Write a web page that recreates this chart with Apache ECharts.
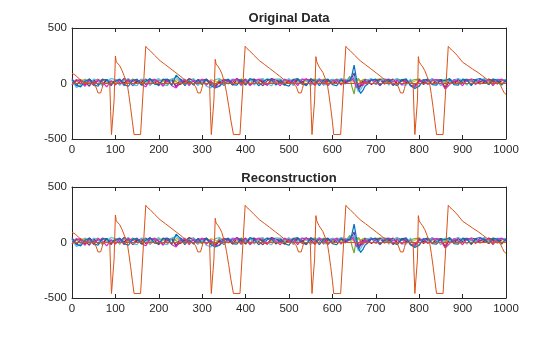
<!DOCTYPE html>
<html>
<head>
<meta charset="utf-8">
<script src="https://cdn.jsdelivr.net/npm/echarts@6/dist/echarts.min.js"></script>
<style>
html,body{margin:0;padding:0;background:#fff;}
#c{width:560px;height:337px;}
</style>
</head>
<body>
<div id="c"></div>
<script>
// Titles and tick values
const titles = ['Original Data', 'Reconstruction'];
const xTicks = [0, 100, 200, 300, 400, 500, 600, 700, 800, 900, 1000];
const yTicks = [-500, 0, 500];

// Sample positions for the small-amplitude channels
const xs = [
  0,10,20,30,40,50,60,70,80,90,
  100,110,120,130,140,150,160,170,180,190,
  200,210,220,230,240,250,260,270,280,290,
  300,310,320,330,340,350,360,370,380,390,
  400,410,420,430,440,450,460,470,480,490,
  500,510,520,530,540,550,560,570,580,590,
  600,610,620,630,635,640,645,650,655,660,
  665,670,675,680,690,700,710,720,730,740,
  750,760,770,780,790,800,810,820,830,840,
  850,860,870,880,890,900,910,920,930,940,
  950,960,970,980,990,1000
];

const chBlue = [
  35,-15,-30,20,40,-10,-25,30,35,-5,
  20,40,-10,-25,30,35,-15,20,45,-5,
  -10,35,40,-15,75,35,-20,25,-15,35,
  -5,40,-20,-40,-25,20,40,-10,-15,35,
  -10,45,25,-20,15,40,30,-15,25,-10,
  -25,35,45,-5,-15,35,25,-20,30,40,
  -10,-20,30,-5,30,25,75,165,50,-45,
  -90,-65,-25,-10,30,40,-15,20,35,-5,
  -20,35,40,-20,-45,-25,30,40,-10,-15,
  35,25,45,-10,-15,40,30,-20,35,45,
  25,-10,40,30,-15,30
];
const chCyan = [
  30,-35,-15,35,-10,40,25,-20,15,45,
  35,-15,25,45,-10,-20,40,30,-15,25,
  45,-10,-20,40,55,20,40,-10,45,-15,
  25,-25,-40,35,45,-15,15,40,30,-20,
  25,40,-15,35,45,-5,-20,35,40,20,
  45,-15,15,40,30,-20,25,45,-5,-15,
  40,20,45,30,35,45,35,65,-25,-75,
  -55,-20,15,30,45,-10,25,40,-15,30,
  45,-10,-15,40,-35,-20,35,10,45,20,
  -20,40,15,30,45,20,-15,40,10,30,
  45,20,-15,40,30,35
];
const chMagenta = [
  -10,35,15,-25,30,-20,35,15,-30,25,
  -15,30,-20,35,15,40,-10,-30,30,35,
  15,-25,30,-20,-40,15,35,-20,30,10,
  40,-15,25,-30,-20,35,15,30,40,-15,
  35,-20,15,40,25,-15,35,10,-20,40,
  15,30,-20,35,40,10,-15,35,25,-20,
  25,35,-15,30,10,25,45,20,-35,-15,
  15,-20,25,-10,35,15,-20,30,40,15,
  25,-15,35,-20,-30,15,35,-10,30,35,
  15,-50,-10,35,15,-20,30,35,-10,40,
  15,35,-20,30,40,10
];
const chPurple = [
  45,-20,25,15,-25,35,-10,40,25,-20,
  35,10,45,25,-20,15,35,-10,40,20,
  -20,40,15,35,-30,40,10,45,20,-15,
  35,25,10,-35,25,-20,35,10,45,20,
  -15,35,40,10,-20,25,45,30,10,-15,
  35,10,40,20,-20,45,10,35,-15,25,
  35,10,40,20,15,25,55,95,-15,-55,
  -25,-5,35,10,40,-10,35,15,25,-20,
  35,20,40,-15,-30,35,-10,25,40,10,
  25,-35,35,10,40,20,35,-10,25,15,
  35,-10,25,15,35,20
];
const chGreen = [
  15,30,-10,35,10,25,40,-10,35,15,
  25,-15,35,10,40,20,-10,35,10,40,
  25,35,-10,40,15,-10,25,35,40,10,
  -10,35,15,-15,40,20,-5,35,25,40,
  10,25,35,10,40,-10,25,40,35,10,
  25,35,10,40,20,35,40,10,35,20,
  10,40,30,20,35,65,-30,-95,30,45,
  20,30,40,25,30,35,40,40,35,30,
  40,30,15,25,35,40,10,30,20,35,
  30,10,40,20,10,30,40,15,30,10,
  30,15,40,10,30,20
];
const chYellow = [
  30,-5,25,40,10,-10,25,35,0,25,
  10,35,-5,25,35,5,25,-5,35,10,
  35,20,5,-5,35,20,5,40,30,15,
  10,-5,35,20,5,40,20,-5,10,35,
  20,5,-5,35,20,40,5,25,-5,35,
  5,40,20,-5,35,10,35,20,40,5,
  20,35,5,40,20,40,25,10,20,30,
  10,35,20,5,35,20,40,5,20,35,
  5,20,35,5,20,40,5,20,35,5,
  20,35,5,20,40,5,35,20,5,35,
  20,5,35,20,5,30
];
const chDarkRed = [
  -15,25,35,-10,40,10,25,-15,35,-5,
  25,35,5,40,-10,25,10,40,-15,35,
  10,-10,35,25,-25,-5,25,10,-5,35,
  25,40,-10,-25,10,35,25,-15,35,10,
  40,-10,25,35,10,-15,40,25,35,-10,
  25,-15,35,10,40,25,-15,40,10,35,
  -5,25,35,10,20,30,35,45,0,-30,
  -15,20,-5,35,-10,25,35,-5,15,40,
  -5,35,10,25,-20,25,10,35,-5,25,
  35,-45,25,-5,35,10,25,40,30,-5,
  10,40,25,-5,25,35
];

// Flat channel
const zeroX = [0, 1000];
const zeroY = [0, 0];

// Large-amplitude channel, [x, y]
const bigSignal = [
 [0,92],[7,77],[18,38],[26,16],[35,3],[45,0],
 [49,0],[55,-30],[60,-85],[63,-95],[66,-85],[69,-45],[72,0],
 [87,0],[89,-250],[91,-460],[95,-460],[97,-150],[100,248],[102,195],[106,180],[110,160],[115,120],[120,70],[127,0],[131,-100],[135,-215],[139,-340],[143,-460],[158,-460],
 [170,335],[174,315],[180,296],[190,255],[203,205],[215,170],[226,137],[240,95],[249,68],[260,32],[270,8],[279,0],
 [285,-30],[290,-85],[293,-95],[296,-85],[299,-45],[302,0],
 [317,0],[319,-250],[321,-460],[325,-460],[327,-150],[330,218],[332,175],[337,151],[341,125],[345,92],[352,0],[356,-80],[361,-200],[366,-330],[372,-460],[387,-460],
 [399,335],[403,315],[409,296],[419,255],[432,205],[444,170],[455,137],[469,95],[478,68],[489,32],[499,8],[510,0],
 [517,-30],[522,-85],[525,-95],[528,-85],[531,-45],[534,0],
 [549,0],[551,-250],[553,-460],[557,-460],[559,-150],[562,242],[564,195],[569,152],[573,135],[578,100],[583,50],[588,0],[592,-100],[596,-215],[600,-340],[603,-460],[619,-460],
 [631,335],[635,315],[641,296],[651,255],[664,205],[676,170],[687,137],[701,95],[710,68],[721,32],[731,8],[740,0],
 [747,-5],[752,-30],[757,-85],[760,-95],[763,-85],[766,-45],[769,0],
 [786,0],[788,-250],[790,-460],[794,-460],[796,-150],[798,242],[800,195],[804,170],[808,150],[813,115],[818,65],[824,0],[828,-100],[832,-215],[836,-340],[840,-460],[855,-460],
 [867,335],[871,315],[877,296],[887,255],[900,192],[912,160],[923,130],[937,95],[946,68],[957,35],[967,15],[975,3],[984,0],[988,-20],[992,-55],[996,-85],[1000,-97]
];

const noise = [
  {d: chYellow, c: '#EDB120'},
  {d: chGreen, c: '#77AC30'},
  {d: chDarkRed, c: '#A2142F'},
  {d: chPurple, c: '#7E2F8E'},
  {d: chCyan, c: '#4DBEEE'},
  {d: chMagenta, c: '#D62ACB'},
  {d: chBlue, c: '#0072BD'}
];

const FONT = '"Liberation Sans", Arial, Helvetica, sans-serif';
const TXT = '#262626';
const grids = [
  {left: 72, right: 54, top: 28, height: 111},
  {left: 72, right: 54, top: 187, height: 111}
];

const xAxes = [], yAxes = [], series = [], titleArr = [];
grids.forEach((g, gi) => {
  const common = {
    gridIndex: gi, type: 'value', splitLine: {show: false},
    axisLine: {show: true, onZero: false, lineStyle: {color: TXT, width: 1}},
    axisTick: {show: true, inside: true, length: 4, lineStyle: {color: TXT}}
  };
  const lbl = {show: true, color: TXT, fontSize: 11.5, fontFamily: FONT, margin: 5,
               formatter: v => String(v)};
  xAxes.push(Object.assign({}, common, {
    position: 'bottom', min: xTicks[0], max: xTicks[xTicks.length - 1], interval: 100,
    axisLabel: lbl
  }));
  xAxes.push(Object.assign({}, common, {
    position: 'top', min: xTicks[0], max: xTicks[xTicks.length - 1], interval: 100,
    axisLabel: {show: false}
  }));
  yAxes.push(Object.assign({}, common, {
    position: 'left', min: yTicks[0], max: yTicks[yTicks.length - 1], interval: 500,
    axisLabel: lbl
  }));
  yAxes.push(Object.assign({}, common, {
    position: 'right', min: yTicks[0], max: yTicks[yTicks.length - 1], interval: 500,
    axisLabel: {show: false}
  }));
  titleArr.push({
    text: titles[gi], left: 289, top: gi === 0 ? 12 : 172, textAlign: 'center', padding: 0,
    textStyle: {fontSize: 13, fontWeight: 'bold', color: TXT, fontFamily: FONT}
  });
  const xi = gi * 2, yi = gi * 2;
  noise.forEach(n => {
    series.push({
      type: 'line', xAxisIndex: xi, yAxisIndex: yi, symbol: 'none', silent: true,
      lineStyle: {width: 1.2, color: n.c}, itemStyle: {color: n.c},
      data: xs.map((x, i) => [x, n.d[i]])
    });
  });
  series.push({
    type: 'line', xAxisIndex: xi, yAxisIndex: yi, symbol: 'none', silent: true,
    lineStyle: {width: 1, color: '#D95319'},
    data: zeroX.map((x, i) => [x, zeroY[i]])
  });
  series.push({
    type: 'line', xAxisIndex: xi, yAxisIndex: yi, symbol: 'none', silent: true,
    lineStyle: {width: 1, color: '#D95319'},
    data: bigSignal
  });
});

const chart = echarts.init(document.getElementById('c'), null, {renderer: 'canvas'});
chart.setOption({
  animation: false,
  backgroundColor: '#ffffff',
  title: titleArr,
  grid: grids,
  xAxis: xAxes,
  yAxis: yAxes,
  series: series
});
</script>
</body>
</html>
